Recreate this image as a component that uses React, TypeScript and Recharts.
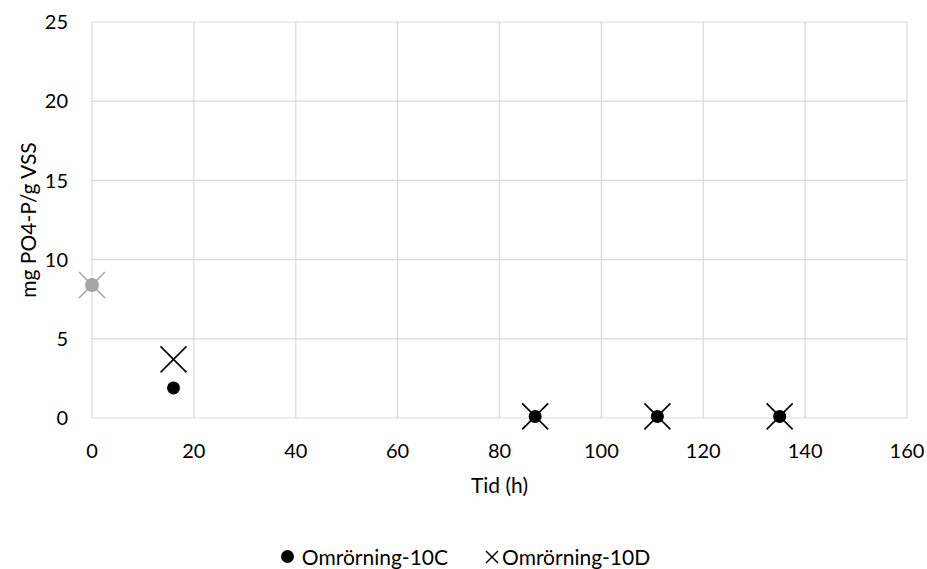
import React from "react";
import {
  ScatterChart,
  Scatter,
  XAxis,
  YAxis,
  CartesianGrid,
} from "recharts";

const hours = [0, 16, 87, 111, 135];
const values10C = [8.4, 1.9, 0.1, 0.1, 0.1];
const values10D = [8.4, 3.7, 0.1, 0.1, 0.1];
const xTicks = [0, 20, 40, 60, 80, 100, 120, 140, 160];
const yTicks = [0, 5, 10, 15, 20, 25];

const seriesC = hours.map((h, i) => ({ h, v: values10C[i] }));
const seriesD = hours.map((h, i) => ({ h, v: values10D[i] }));

const FONT = "Lato, 'Open Sans', sans-serif";
const GREY = "#a6a6a6";

// first sample is drawn greyed out
const Dot = (props: any) => {
  const { cx, cy, index } = props;
  if (cx == null || cy == null) return null;
  return <circle cx={cx} cy={cy} r={index === 0 ? 7 : 6.5} fill={index === 0 ? GREY : "#000"} />;
};

const Cross = (props: any) => {
  const { cx, cy, index } = props;
  if (cx == null || cy == null) return null;
  const s = 13;
  const c = index === 0 ? GREY : "#000";
  return (
    <g stroke={c} strokeWidth={1.6}>
      <line x1={cx - s} y1={cy - s} x2={cx + s} y2={cy + s} />
      <line x1={cx - s} y1={cy + s} x2={cx + s} y2={cy - s} />
    </g>
  );
};

const YLabel = (props: any) => {
  const vb = props.viewBox || {};
  const y = (vb.y ?? 0) + (vb.height ?? 0) / 2;
  return (
    <text
      x={27}
      y={y}
      transform={`rotate(-90, 27, ${y})`}
      textAnchor="middle"
      dominantBaseline="central"
      fontFamily={FONT}
      fontSize={21}
      fill="#000"
    >
      mg PO4-P/g VSS
    </text>
  );
};

const XLabel = (props: any) => {
  const vb = props.viewBox || {};
  const x = (vb.x ?? 0) + (vb.width ?? 0) / 2;
  return (
    <text x={x} y={(vb.y ?? 0) + 75} textAnchor="middle" fontFamily={FONT} fontSize={21} fill="#000">
      Tid (h)
    </text>
  );
};

export default function App() {
  return (
    <div style={{ position: "relative", width: 927, height: 569, background: "#fff", fontFamily: FONT }}>
      <style>{`body{margin:0}`}</style>
      <ScatterChart
        width={927}
        height={569}
        margin={{ top: 22, right: 20, bottom: 71, left: 0 }}
      >
        <CartesianGrid stroke="#d9d9d9" strokeWidth={1.2} />
        <XAxis
          type="number"
          dataKey="h"
          domain={[0, 160]}
          ticks={xTicks}
          axisLine={false}
          tickLine={false}
          tickSize={0}
          tickMargin={26}
          height={80}
          tick={{ fontSize: 20, fill: "#000", fontFamily: FONT }}
          label={<XLabel />}
        />
        <YAxis
          type="number"
          dataKey="v"
          domain={[0, 25]}
          ticks={yTicks}
          axisLine={false}
          tickLine={false}
          tickSize={0}
          tickMargin={24}
          width={92}
          tick={{ fontSize: 20, fill: "#000", fontFamily: FONT }}
          label={<YLabel />}
        />
        <Scatter name="Omrörning-10C" data={seriesC} shape={<Dot />} isAnimationActive={false} />
        <Scatter name="Omrörning-10D" data={seriesD} shape={<Cross />} isAnimationActive={false} />
      </ScatterChart>
      <div
        style={{
          position: "absolute",
          top: 544,
          left: 0,
          width: 927,
          display: "flex",
          justifyContent: "center",
          gap: 37,
          fontSize: 21,
          lineHeight: "25px",
          color: "#000",
          paddingLeft: 4,
          boxSizing: "border-box",
        }}
      >
        <span style={{ display: "flex", alignItems: "center", gap: 8 }}>
          <svg width={13} height={13}>
            <circle cx={6.5} cy={6.5} r={6.5} fill="#000" />
          </svg>
          Omrörning-10C
        </span>
        <span style={{ display: "flex", alignItems: "center", gap: 3 }}>
          <svg width={14} height={14}>
            <g stroke="#000" strokeWidth={1.5}>
              <line x1={1} y1={1} x2={13} y2={13} />
              <line x1={1} y1={13} x2={13} y2={1} />
            </g>
          </svg>
          Omrörning-10D
        </span>
      </div>
    </div>
  );
}
